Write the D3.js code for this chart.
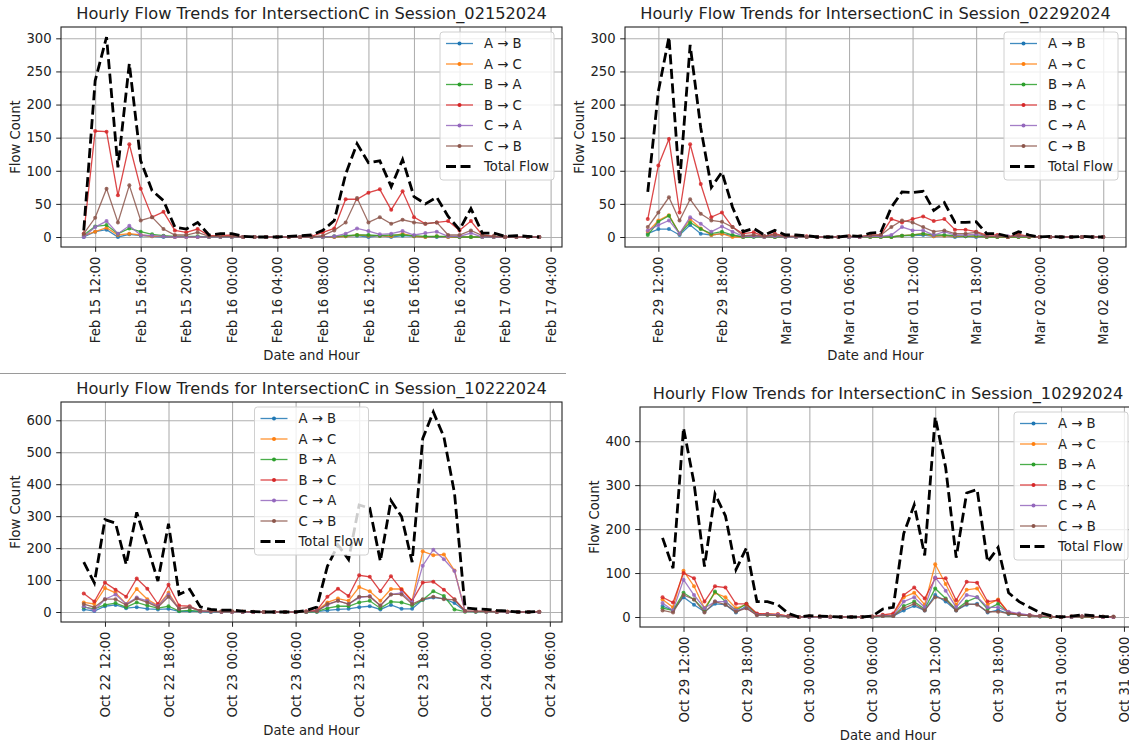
<!DOCTYPE html>
<html>
<head>
<meta charset="utf-8">
<script src="https://cdn.jsdelivr.net/npm/d3@7"></script>
<style>
  body { margin: 0; background: #fff; }
  svg { display: block; font-family: "DejaVu Sans", sans-serif; }
</style>
</head>
<body>
<svg id="chart" width="1129" height="744"></svg>
<script>
// flow directions (legend order) and their colours
const flows = ["A → B", "A → C", "B → A", "B → C", "C → A", "C → B"];
const colors = ["#1f77b4", "#ff7f0e", "#2ca02c", "#d62728", "#9467bd", "#8c564b"];

// Session_02152024 : hourly counts starting Feb 15 11:00
const s1Start = "2024-02-15T11:00";
const s1AB = [0,8,11,0,4,2,1,0,0,0,0,0,0,0,0,0,0,0,0,0,0,0,0,1,2,0,2,0,2,1,0,0,0,0,0,0,0,0,0,0,0];
const s1AC = [2,8,14,3,5,3,1,1,0,0,0,0,0,0,0,0,0,0,0,0,0,0,0,1,3,2,2,1,5,1,0,1,0,0,0,0,0,0,0,0,0];
const s1BA = [3,16,18,5,13,8,4,2,1,1,1,0,0,0,0,0,0,0,0,0,0,0,1,2,3,3,2,3,3,2,1,1,1,0,0,0,0,0,0,0,0];
const s1BC = [5,160,159,63,140,73,30,38,10,7,12,2,2,3,0,0,0,0,0,0,1,7,13,57,57,67,72,41,69,30,20,22,24,10,24,3,1,0,0,0,0];
const s1CA = [0,15,24,5,17,3,2,1,0,0,0,0,0,0,0,0,0,0,0,0,0,0,1,5,13,9,4,5,9,3,6,8,1,1,6,0,0,0,0,0,0];
const s1CB = [5,29,73,22,78,25,30,12,3,3,7,1,1,1,0,0,0,0,0,0,0,2,10,22,59,22,30,20,26,22,20,22,3,3,10,2,1,0,0,0,0];
const s1Total = [10,236,302,105,262,115,70,55,15,12,22,3,5,5,1,0,0,0,1,2,3,10,25,95,141,112,115,76,117,61,50,60,31,11,43,6,6,1,2,1,0];
const s1Ticks = ["2024-02-15T12:00","2024-02-15T16:00","2024-02-15T20:00","2024-02-16T00:00","2024-02-16T04:00","2024-02-16T08:00",
                 "2024-02-16T12:00","2024-02-16T16:00","2024-02-16T20:00","2024-02-17T00:00","2024-02-17T04:00"];

// Session_02292024 : hourly counts starting Feb 29 11:00
const s2Start = "2024-02-29T11:00";
const s2AB = [5,12,12,3,18,5,3,5,2,0,1,1,0,0,0,0,0,0,0,0,0,0,0,0,2,2,3,1,2,0,1,0,0,0,0,0,0,0,0,0,0,0,0,0];
const s2AC = [8,25,33,5,27,13,3,5,0,0,1,0,0,0,0,0,0,0,0,0,0,0,0,0,2,3,5,1,2,1,1,1,0,0,0,0,0,0,0,0,0,0,0,0];
const s2BA = [3,23,32,5,22,12,5,8,3,0,0,0,0,0,0,0,0,0,0,0,0,0,0,0,2,3,5,3,3,2,1,2,0,0,0,0,0,0,0,0,0,0,0,0];
const s2BC = [27,108,148,37,140,80,30,37,15,5,7,1,5,1,1,1,0,0,0,1,0,3,3,27,22,27,31,24,27,11,11,8,3,3,0,4,1,0,0,0,0,0,0,0];
const s2CA = [10,18,25,5,30,20,8,16,8,1,1,0,1,0,0,0,0,0,0,0,0,1,1,3,15,10,10,3,8,3,3,4,1,1,1,1,1,0,0,0,0,0,0,0];
const s2CB = [15,37,60,25,57,35,25,23,15,2,3,1,3,1,1,0,0,0,0,1,1,2,3,15,25,22,15,8,10,5,5,7,1,1,0,2,1,0,0,0,0,0,0,0];
const s2Total = [68,220,302,80,290,165,75,98,45,8,13,3,10,3,3,2,0,0,0,2,1,6,7,45,68,67,69,40,52,22,22,23,5,5,1,8,3,0,1,0,0,1,0,0];
const s2Ticks = ["2024-02-29T12:00","2024-02-29T18:00","2024-03-01T00:00","2024-03-01T06:00",
                 "2024-03-01T12:00","2024-03-01T18:00","2024-03-02T00:00","2024-03-02T06:00"];

// Session_10222024 : hourly counts starting Oct 22 10:00
const s3Start = "2024-10-22T10:00";
const s3AB = [8,3,18,22,12,15,10,8,10,2,3,1,0,0,0,0,0,0,0,0,0,0,1,5,8,10,15,18,8,22,10,10,38,45,42,28,2,1,1,0,0,0,0,0];
const s3AC = [30,25,75,60,25,72,40,20,60,10,15,3,2,1,1,1,0,0,0,0,0,1,3,30,42,35,78,65,35,72,72,35,190,178,180,130,2,2,1,1,1,0,0,0];
const s3BA = [15,10,22,28,15,30,20,12,18,3,5,2,1,1,1,0,0,0,0,0,0,0,1,12,18,18,30,35,12,32,30,20,38,65,50,8,1,1,1,1,0,0,0,0];
const s3BC = [58,33,92,70,48,105,73,25,85,20,18,3,2,1,1,1,0,0,0,0,0,2,5,48,73,50,115,110,65,112,70,35,92,95,70,40,3,2,2,1,1,0,0,1];
const s3CA = [18,5,40,55,25,45,35,18,55,10,15,3,1,1,1,0,0,0,0,0,0,1,3,22,35,25,45,50,20,55,60,30,145,195,165,128,2,2,1,1,0,0,0,0];
const s3CB = [25,15,40,40,22,42,30,15,48,10,15,4,2,2,2,1,1,0,0,0,0,1,2,25,35,25,48,48,20,55,55,25,40,48,40,38,3,2,2,1,1,0,0,1];
const s3Total = [156,91,289,278,149,312,206,97,276,55,71,16,8,6,6,3,1,0,0,0,0,5,15,143,210,164,335,325,159,349,299,156,543,626,548,372,13,10,8,5,3,0,0,2];
const s3Ticks = ["2024-10-22T12:00","2024-10-22T18:00","2024-10-23T00:00","2024-10-23T06:00",
                 "2024-10-23T12:00","2024-10-23T18:00","2024-10-24T00:00","2024-10-24T06:00"];

// Session_10292024 : hourly counts starting Oct 29 10:00
const s4Start = "2024-10-29T10:00";
const s4AB = [25,15,45,28,12,30,28,10,25,5,5,4,1,0,0,0,0,0,0,0,0,2,2,15,25,15,50,35,15,28,30,10,16,7,5,4,1,0,0,0,1,0,0,0];
const s4AC = [40,22,105,70,20,55,45,20,28,7,7,6,2,0,1,0,0,0,0,0,0,4,5,45,55,28,120,75,28,62,65,28,40,10,6,4,2,0,0,0,1,0,0,0];
const s4BA = [20,15,55,40,15,58,35,15,30,6,5,4,1,0,0,0,0,0,0,0,0,2,2,25,35,18,65,42,17,35,45,18,30,8,5,3,1,0,0,0,0,0,0,0];
const s4BC = [45,33,100,88,35,70,67,30,30,8,7,6,2,0,1,1,0,0,0,0,1,5,8,50,67,42,88,88,38,80,78,35,38,10,6,4,2,1,0,1,1,1,0,0];
const s4CA = [32,15,85,50,20,35,35,15,20,5,6,5,1,0,0,0,0,0,0,0,0,3,3,35,45,22,90,60,22,50,45,22,22,12,8,4,2,1,0,0,1,1,0,0];
const s4CB = [15,10,50,40,10,35,28,12,20,4,5,3,1,0,1,1,1,0,0,0,1,2,2,20,30,15,45,40,15,30,28,12,12,8,5,3,2,1,0,1,1,1,1,1];
const s4Total = [180,111,430,305,115,280,230,108,157,35,35,28,8,0,3,2,1,0,0,0,2,18,22,190,255,140,455,340,135,282,290,125,158,55,35,22,10,3,0,2,5,3,1,1];
const s4Ticks = ["2024-10-29T12:00","2024-10-29T18:00","2024-10-30T00:00","2024-10-30T06:00",
                 "2024-10-30T12:00","2024-10-30T18:00","2024-10-31T00:00","2024-10-31T06:00"];

const yTicks300 = [0, 50, 100, 150, 200, 250, 300];
const yTicks600 = [0, 100, 200, 300, 400, 500, 600];
const yTicks400 = [0, 100, 200, 300, 400];

const parseT = d3.timeParse("%Y-%m-%dT%H:%M");
const fmtT = d3.timeFormat("%b %d %H:%M");

const panels = [
  { title: "Hourly Flow Trends for IntersectionC in Session_02152024", start: s1Start,
    series: [s1AB, s1AC, s1BA, s1BC, s1CA, s1CB], total: s1Total, ticks: s1Ticks, yTicks: yTicks300,
    box: { left: 61, top: 27, right: 562, bottom: 247 }, legend: "right" },
  { title: "Hourly Flow Trends for IntersectionC in Session_02292024", start: s2Start,
    series: [s2AB, s2AC, s2BA, s2BC, s2CA, s2CB], total: s2Total, ticks: s2Ticks, yTicks: yTicks300,
    box: { left: 625, top: 27, right: 1126, bottom: 247 }, legend: "right" },
  { title: "Hourly Flow Trends for IntersectionC in Session_10222024", start: s3Start,
    series: [s3AB, s3AC, s3BA, s3BC, s3CA, s3CB], total: s3Total, ticks: s3Ticks, yTicks: yTicks600,
    box: { left: 61, top: 402, right: 562, bottom: 622 }, legend: "center" },
  { title: "Hourly Flow Trends for IntersectionC in Session_10292024", start: s4Start,
    series: [s4AB, s4AC, s4BA, s4BC, s4CA, s4CB], total: s4Total, ticks: s4Ticks, yTicks: yTicks400,
    box: { left: 640, top: 407, right: 1136, bottom: 627 }, legend: "right" }
];

const svg = d3.select("#chart");

// thin separator left over from the collage
svg.append("line")
  .attr("x1", 0).attr("x2", 566).attr("y1", 373.5).attr("y2", 373.5)
  .attr("stroke", "#9a9a9a").attr("stroke-width", 1);

panels.forEach(drawPanel);

function drawPanel(p, idx) {
  const b = p.box;
  const t0 = parseT(p.start);
  const times = p.total.map((v, i) => d3.timeHour.offset(t0, i));
  const tEnd = times[times.length - 1];
  const span = tEnd - t0;

  const x = d3.scaleTime()
    .domain([new Date(+t0 - span * 0.05), new Date(+tEnd + span * 0.05)])
    .range([b.left, b.right]);

  const ymax = d3.max([p.total].concat(p.series), s => d3.max(s));
  const y = d3.scaleLinear()
    .domain([-ymax * 0.05, ymax * 1.05])
    .range([b.bottom, b.top]);

  const tickDates = p.ticks.map(parseT);
  const g = svg.append("g");

  const clipId = "clip" + idx;
  g.append("clipPath").attr("id", clipId)
    .append("rect").attr("x", b.left).attr("y", b.top)
    .attr("width", b.right - b.left).attr("height", b.bottom - b.top);

  // grid
  g.append("g")
    .attr("transform", "translate(0," + b.bottom + ")")
    .call(d3.axisBottom(x).tickValues(tickDates).tickSize(-(b.bottom - b.top)).tickFormat(""))
    .call(s => s.select(".domain").remove())
    .selectAll("line").attr("stroke", "#b0b0b0").attr("stroke-width", 1.1);
  g.append("g")
    .attr("transform", "translate(" + b.left + ",0)")
    .call(d3.axisLeft(y).tickValues(p.yTicks).tickSize(-(b.right - b.left)).tickFormat(""))
    .call(s => s.select(".domain").remove())
    .selectAll("line").attr("stroke", "#b0b0b0").attr("stroke-width", 1.1);

  // series lines
  const plot = g.append("g").attr("clip-path", "url(#" + clipId + ")");
  const line = d3.line().x((d, i) => x(times[i])).y(d => y(d));

  p.series.forEach((vals, k) => {
    plot.append("path")
      .attr("d", line(vals))
      .attr("fill", "none")
      .attr("stroke", colors[k])
      .attr("stroke-width", 1.3)
      .attr("stroke-opacity", 0.85);
    plot.selectAll(null)
      .data(vals)
      .enter()
      .append("circle")
        .attr("cx", (d, i) => x(times[i]))
        .attr("cy", d => y(d))
        .attr("r", 2)
        .attr("fill", colors[k])
        .attr("fill-opacity", 0.85);
  });

  plot.append("path")
    .attr("d", line(p.total))
    .attr("fill", "none")
    .attr("stroke", "#000")
    .attr("stroke-width", 2.8)
    .attr("stroke-dasharray", "10,4.5");

  // axes
  const xAxis = g.append("g")
    .attr("transform", "translate(0," + b.bottom + ")")
    .call(d3.axisBottom(x).tickValues(tickDates).tickFormat(fmtT).tickSize(4.8).tickSizeOuter(0));
  xAxis.select(".domain").remove();
  xAxis.selectAll("line").attr("stroke", "#222");
  xAxis.selectAll("text")
    .attr("transform", "rotate(-90)")
    .attr("x", -9.6)
    .attr("y", 0)
    .attr("dy", "0.35em")
    .style("text-anchor", "end")
    .style("font-size", "13.2px")
    .style("font-family", "DejaVu Sans")
    .attr("fill", "#222");

  const yAxis = g.append("g")
    .attr("transform", "translate(" + b.left + ",0)")
    .call(d3.axisLeft(y).tickValues(p.yTicks).tickSize(4.8).tickPadding(4.6));
  yAxis.select(".domain").remove();
  yAxis.selectAll("line").attr("stroke", "#222");
  yAxis.selectAll("text")
    .style("font-size", "13.2px")
    .style("font-family", "DejaVu Sans")
    .attr("fill", "#222");

  // frame
  g.append("rect")
    .attr("x", b.left).attr("y", b.top)
    .attr("width", b.right - b.left).attr("height", b.bottom - b.top)
    .attr("fill", "none").attr("stroke", "#222").attr("stroke-width", 1.1);

  // texts
  g.append("text")
    .attr("x", (b.left + b.right) / 2).attr("y", b.top - 14)
    .attr("dy", "0.35em")
    .attr("text-anchor", "middle")
    .style("font-size", "16.2px")
    .attr("fill", "#222")
    .text(p.title);

  g.append("text")
    .attr("transform", "translate(" + (b.left - 46) + "," + ((b.top + b.bottom) / 2) + ") rotate(-90)")
    .attr("dy", "0.35em")
    .attr("text-anchor", "middle")
    .style("font-size", "13.2px")
    .attr("fill", "#222")
    .text("Flow Count");

  g.append("text")
    .attr("x", (b.left + b.right) / 2).attr("y", b.bottom + 108)
    .attr("dy", "0.35em")
    .attr("text-anchor", "middle")
    .style("font-size", "13.2px")
    .attr("fill", "#222")
    .text("Date and Hour");

  // legend
  const lw = 114, lh = 148;
  const lx = p.legend === "center" ? (b.left + b.right) / 2 - lw / 2 : b.right - 8 - lw;
  const ly = b.top + 5;
  const leg = g.append("g").attr("transform", "translate(" + lx + "," + ly + ")");
  leg.append("rect")
    .attr("width", lw).attr("height", lh).attr("rx", 3)
    .attr("fill", "#fff").attr("fill-opacity", 0.8)
    .attr("stroke", "#d0d0d0").attr("stroke-width", 1);

  const labels = flows.concat(["Total Flow"]);
  labels.forEach((lab, k) => {
    const yy = 11.5 + k * 20.5;
    const isTotal = k === flows.length;
    leg.append("line")
      .attr("x1", 6).attr("x2", 33).attr("y1", yy).attr("y2", yy)
      .attr("stroke", isTotal ? "#000" : colors[k])
      .attr("stroke-width", isTotal ? 2.8 : 1.3)
      .attr("stroke-dasharray", isTotal ? "10,4.5" : null)
      .attr("stroke-opacity", isTotal ? 1 : 0.85);
    if (!isTotal) {
      leg.append("circle").attr("cx", 19.5).attr("cy", yy).attr("r", 2).attr("fill", colors[k]);
    }
    leg.append("text")
      .attr("x", 44).attr("y", yy)
      .attr("dy", "0.35em")
      .style("font-size", "13.2px")
      .attr("fill", "#222")
      .text(lab);
  });
}
</script>
</body>
</html>
